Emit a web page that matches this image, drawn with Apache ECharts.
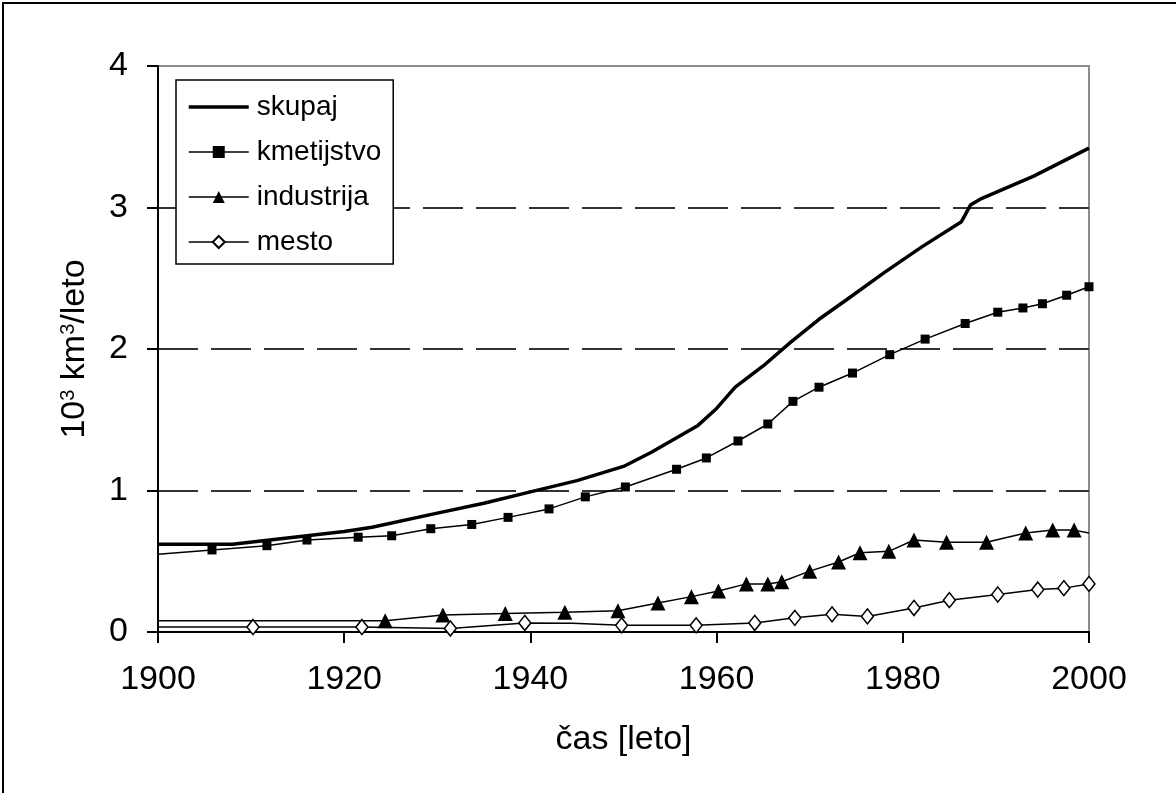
<!DOCTYPE html>
<html>
<head>
<meta charset="utf-8">
<script src="https://cdn.jsdelivr.net/npm/echarts@6/dist/echarts.min.js"></script>
<style>
html,body{margin:0;padding:0;background:#fff;}
#chart{width:1176px;height:793px;}
</style>
</head>
<body>
<div id="chart"></div>
<script>
// ---- data ----
var xTicks = [1900, 1920, 1940, 1960, 1980, 2000];
var yTicks = [0, 1, 2, 3, 4];
var seriesNames = ['skupaj', 'kmetijstvo', 'industrija', 'mesto'];

var skupaj = [[1900,0.62],[1908,0.62],[1912,0.65],[1916,0.68],[1920,0.71],[1923,0.74],[1930,0.84],[1935,0.91],[1940,0.99],[1945,1.07],[1950,1.17],[1953,1.27],[1958,1.46],[1960,1.58],[1962,1.73],[1965,1.88],[1968,2.05],[1971,2.21],[1974,2.35],[1978,2.54],[1982,2.72],[1986.3,2.90],[1987.3,3.02],[1988.5,3.065],[1994,3.22],[2000,3.42]];

var kmetijstvo = [[1900,0.55],[1905.8,0.58],[1911.7,0.61],[1916,0.65],[1921.5,0.67],[1925.1,0.68],[1929.3,0.73],[1933.7,0.76],[1937.6,0.81],[1942,0.87],[1945.9,0.955],[1950.2,1.025],[1955.7,1.15],[1958.9,1.23],[1962.3,1.35],[1965.5,1.47],[1968.2,1.63],[1971,1.73],[1974.6,1.83],[1978.6,1.96],[1982.4,2.07],[1986.7,2.18],[1990.2,2.26],[1992.9,2.29],[1995,2.32],[1997.6,2.38],[2000,2.44]];

var industrija = [[1900,0.08],[1924.4,0.08],[1930.6,0.12],[1937.3,0.13],[1943.7,0.14],[1949.4,0.15],[1953.7,0.205],[1957.3,0.25],[1960.2,0.29],[1963.2,0.34],[1965.5,0.34],[1967,0.355],[1970,0.43],[1973.1,0.495],[1975.4,0.56],[1978.5,0.57],[1981.2,0.65],[1984.7,0.635],[1989,0.635],[1993.2,0.70],[1996.1,0.72],[1998.4,0.72],[2000,0.70]];

var mesto = [[1900,0.035],[1910.2,0.035],[1921.9,0.035],[1931.4,0.025],[1939.4,0.064],[1944.5,0.062],[1949.8,0.047],[1957.8,0.047],[1964.1,0.064],[1968.4,0.10],[1972.4,0.125],[1976.2,0.11],[1981.2,0.17],[1985,0.225],[1990.2,0.265],[1994.5,0.30],[1997.3,0.31],[2000,0.34]];

// points drawn without a marker (line vertices only)
var kmetNoMark = [0];
var indNoMark = [0, 22];
var mestoNoMark = [0, 5];

function toData(pairs, noMark) {
  return pairs.map(function (p, i) {
    if (noMark.indexOf(i) >= 0) return { value: p, symbol: 'none' };
    return { value: p };
  });
}

var FONT = '"Liberation Sans", Arial, sans-serif';
var chart = echarts.init(document.getElementById('chart'), null, { renderer: 'canvas' });

chart.setOption({
  animation: false,
  backgroundColor: '#ffffff',
  textStyle: { fontFamily: FONT, color: '#000' },
  graphic: [{
    type: 'rect', z: 100, silent: true,
    shape: { x: 3, y: 3, width: 1300, height: 1000 },
    style: { fill: 'none', stroke: '#000', lineWidth: 2 }
  }],
  grid: {
    left: 158, top: 66, right: 87, bottom: 161,
    show: true, borderColor: '#8c8c8c', borderWidth: 2,
    outerBoundsMode: 'none'
  },
  legend: {
    orient: 'vertical',
    left: 176, top: 80,
    padding: [12, 12, 7, 11],
    backgroundColor: '#fff',
    borderColor: '#000', borderWidth: 1.5,
    itemWidth: 60, itemHeight: 15, itemGap: 15,
    textStyle: { fontFamily: FONT, fontSize: 28, lineHeight: 30, color: '#000', padding: [0, 0, 0, 3] },
    data: [
      { name: 'skupaj', itemStyle: { opacity: 0 }, lineStyle: { width: 3.5, color: '#000' } },
      { name: 'kmetijstvo', lineStyle: { width: 1.5, color: '#000' } },
      { name: 'industrija', lineStyle: { width: 1.5, color: '#000' } },
      { name: 'mesto', lineStyle: { width: 1.5, color: '#000' } }
    ]
  },
  xAxis: {
    type: 'value', min: xTicks[0], max: xTicks[xTicks.length - 1], interval: 20,
    name: 'čas [leto]', nameLocation: 'middle', nameGap: 91,
    nameTextStyle: { fontFamily: FONT, fontSize: 34, color: '#000' },
    axisLine: { show: true, lineStyle: { color: '#000', width: 2 } },
    axisTick: { show: true, inside: false, length: 11, lineStyle: { color: '#000', width: 2 } },
    axisLabel: { fontFamily: FONT, fontSize: 34, color: '#000', margin: 31, formatter: function (v) { return String(v); } },
    splitLine: { show: false }
  },
  yAxis: {
    type: 'value', min: yTicks[0], max: yTicks[yTicks.length - 1], interval: 1,
    name: '{a|10}{s|3}{a| km}{s|3}{a|/leto}',
    nameLocation: 'middle', nameGap: 66, nameRotate: 90,
    nameTextStyle: {
      fontFamily: FONT, color: '#000',
      rich: {
        a: { fontFamily: FONT, fontSize: 34, lineHeight: 34, color: '#000' },
        s: { fontFamily: FONT, fontSize: 20, lineHeight: 20, verticalAlign: 'top', color: '#000' }
      }
    },
    axisLine: { show: true, lineStyle: { color: '#000', width: 2 } },
    axisTick: { show: true, inside: false, length: 11, lineStyle: { color: '#000', width: 2 } },
    axisLabel: { fontFamily: FONT, fontSize: 34, color: '#000', margin: 30 },
    splitLine: {
      show: true, showMinLine: false, showMaxLine: false,
      lineStyle: { color: '#333', width: 2, type: [40, 13] }
    }
  },
  series: [
    {
      name: seriesNames[0], type: 'line', data: skupaj,
      symbol: 'none', showSymbol: false,
      lineStyle: { color: '#000', width: 3.5 }, itemStyle: { color: '#000' }, z: 5
    },
    {
      name: seriesNames[1], type: 'line', data: toData(kmetijstvo, kmetNoMark),
      symbol: 'rect', symbolSize: 9, showAllSymbol: true,
      lineStyle: { color: '#000', width: 1.5 }, itemStyle: { color: '#000' }, z: 4
    },
    {
      name: seriesNames[2], type: 'line', data: toData(industrija, indNoMark),
      symbol: 'triangle', symbolSize: 15, showAllSymbol: true,
      lineStyle: { color: '#000', width: 1.5 }, itemStyle: { color: '#000' }, z: 3
    },
    {
      name: seriesNames[3], type: 'line', data: toData(mesto, mestoNoMark),
      symbol: 'diamond', symbolSize: [12, 15], showAllSymbol: true,
      lineStyle: { color: '#000', width: 1.5 }, itemStyle: { color: '#fff', borderColor: '#000', borderWidth: 1.5 }, z: 3
    }
  ]
});
</script>
</body>
</html>
